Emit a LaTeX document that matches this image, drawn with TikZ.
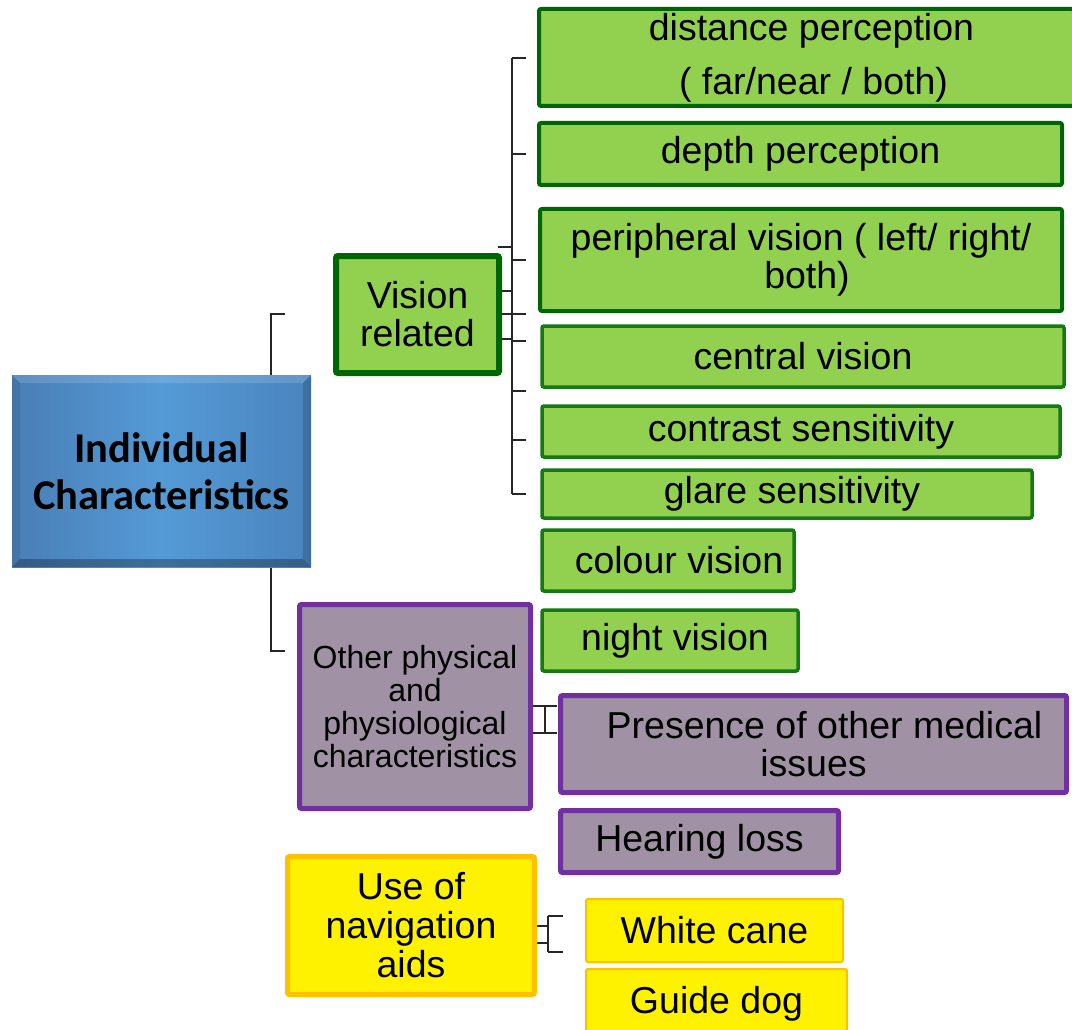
\documentclass[tikz,border=0pt]{standalone}
\usepackage{fontspec}
\setmainfont{Liberation Sans}
\newfontfamily\calibri{Carlito}
\usetikzlibrary{backgrounds}
\definecolor{gfill}{HTML}{92D050}
\definecolor{gline}{HTML}{006600}
\definecolor{gline2}{HTML}{157A15}
\definecolor{pline}{HTML}{7030A0}
\definecolor{pfill}{RGB}{160,146,164}
\definecolor{yline}{HTML}{FFC000}
\definecolor{bleft}{RGB}{74,126,182}
\definecolor{bmid}{RGB}{84,154,214}
\definecolor{bright}{RGB}{74,132,190}
\begin{document}
\begin{tikzpicture}[x=1pt,y=-1pt,
  box/.style={rectangle, rounded corners=2pt, inner sep=0pt, outer sep=0pt, text=black,
    font=\fontsize{37.5}{37.5}\selectfont, align=center},
  gbox/.style={box, fill=gfill, draw=gline, line width=4pt},
  gboxb/.style={box, fill=gfill, draw=gline2, line width=3.5pt},
  pbox/.style={box, fill=pfill, draw=pline, line width=5pt},
  ybox/.style={box, fill=yellow, draw=yline, line width=5pt},
  ysub/.style={box, fill=yellow, draw=yline, line width=2pt},
  conn/.style={draw=black!85, line width=1.3pt},
]
\useasboundingbox (0,0) rectangle (1072,1030);
\clip (0,0) rectangle (1072,1030);

% root
\node[rectangle, inner sep=0pt, outer sep=0pt, minimum width=299pt, minimum height=192pt,
  left color=bleft, right color=bright, middle color=bmid,
  font=\calibri\bfseries\fontsize{42.5}{47}\selectfont, align=center] (ic) at (161.5,471)
  {Individual\\Characteristics};
\fill[white, opacity=.14] (ic.north west) -- (ic.north east) -- ([xshift=-8pt,yshift=-8pt]ic.north east) -- ([xshift=8pt,yshift=-8pt]ic.north west) -- cycle;
\fill[black, opacity=.28] (ic.south west) -- (ic.south east) -- ([xshift=-8pt,yshift=8pt]ic.south east) -- ([xshift=8pt,yshift=8pt]ic.south west) -- cycle;
\fill[black, opacity=.08] (ic.north west) -- (ic.south west) -- ([xshift=8pt,yshift=8pt]ic.south west) -- ([xshift=8pt,yshift=-8pt]ic.north west) -- cycle;
\fill[black, opacity=.16] (ic.north east) -- (ic.south east) -- ([xshift=-8pt,yshift=8pt]ic.south east) -- ([xshift=-8pt,yshift=-8pt]ic.north east) -- cycle;

% level 1
\node[gbox, line width=6pt, minimum width=163pt, minimum height=117pt, font=\fontsize{37.5}{38}\selectfont] (vis) at (417.5,314.5) {Vision\\related};
\node[pbox, minimum width=231pt, minimum height=204pt, font=\fontsize{32}{33}\selectfont] (oth) at (415,706.5)
  {Other physical\\and\\physiological\\characteristics};
\node[ybox, minimum width=247pt, minimum height=138pt, font=\fontsize{37.5}{39}\selectfont] (nav) at (411,925.5)
  {Use of\\navigation\\aids};

% vision children
\node[gbox, minimum width=535pt, minimum height=97pt, font=\fontsize{37.5}{54}\selectfont] (dist) at (806.5,57.5)
  {\hspace*{10pt}distance perception\\\hspace*{14pt}( far/near / both)};
\node[gbox, minimum width=523pt, minimum height=62pt] (depth) at (800.5,154) {depth perception};
\node[gbox, minimum width=522pt, minimum height=102pt] (peri) at (801,260)
  {peripheral vision ( left/ right/\\\hspace*{12pt}both)};
\node[gboxb, minimum width=522pt, minimum height=61pt] (cent) at (803,356.5) {central vision};
\node[gboxb, minimum width=518pt, minimum height=51pt] (cont) at (801,431.5) {contrast sensitivity};
\node[gboxb, minimum width=490pt, minimum height=48pt] (glare) at (787,494) {\hspace*{10pt}glare sensitivity};
\node[gboxb, minimum width=252pt, minimum height=61pt] (col) at (668,560.5) {\hspace*{22pt}colour vision};
\node[gboxb, minimum width=256pt, minimum height=61pt] (night) at (670,640.5) {\hspace*{10pt}night vision};

% other children
\node[pbox, minimum width=506pt, minimum height=97pt, font=\fontsize{37.5}{38}\selectfont] (pres) at (813.5,744)
  {\hspace*{22pt}Presence of other medical\\issues};
\node[pbox, minimum width=278pt, minimum height=62pt] (hear) at (699.5,841.5) {Hearing loss};

% nav children
\node[ysub, minimum width=257pt, minimum height=63pt] (cane) at (714.5,930.5) {White cane};
\node[ysub, minimum width=261pt, minimum height=70pt] (dog) at (716.5,1004) {\raisebox{1pt}{Guide dog}};

% connector coordinates
\coordinate (mx) at (271,0);
\coordinate (bus) at (512,0);
\coordinate (tdist) at (526,58);
\coordinate (tdepth) at (526,154);
\coordinate (tperi) at (526,260);
\coordinate (tcent) at (526,314);
\coordinate (tcont) at (526,341);
\coordinate (tglare) at (526,391);
\coordinate (tcol) at (526,440);
\coordinate (tnight) at (526,494);
\coordinate (vtop) at (498,247);
\coordinate (ob) at (545,0);
\coordinate (opres) at (557,706);
\coordinate (ohear) at (557,733);
\coordinate (nb) at (548,0);
\coordinate (ncane) at (563,916);
\coordinate (ndog) at (563,952);
\coordinate (vmid1) at (0,291);
\coordinate (vmid2) at (0,339);
\coordinate (rtop) at (285,314);
\coordinate (rbot) at (285,651);
\coordinate (nmid1) at (0,926);
\coordinate (nmid2) at (0,943);

\begin{scope}[on background layer]
  % root bracket
  \draw[conn] (ic.north -| mx) |- (rtop);
  \draw[conn] (ic.south -| mx) |- (rbot);
  % vision bus
  \draw[conn] (bus |- tdist) -- (bus |- tnight);
  \draw[conn, line width=2pt] (bus |- vtop) -- (bus |- tcont);
  \foreach \t in {tdist,tdepth,tperi,tcent,tcont,tglare,tcol,tnight}
    \draw[conn] (bus |- \t) -- (\t);
  \draw[conn] (vtop) -- (bus |- vtop);
  \draw[conn] (vis.east |- vmid1) -- (bus |- vmid1);
  \draw[conn, line width=2pt] (vis.east |- tcent) -- (tcent);
  \draw[conn] (vis.east |- vmid2) -- (bus |- vmid2);
  % other bracket
  \draw[conn] (oth.east |- opres) -- (opres);
  \draw[conn] (oth.east |- ohear) -- (ohear);
  \draw[conn] (ob |- opres) -- (ob |- ohear);
  % nav bracket
  \draw[conn] (nav.east |- nmid1) -- (nb |- nmid1);
  \draw[conn] (nav.east |- nmid2) -- (nb |- nmid2);
  \draw[conn] (nb |- ncane) -- (nb |- ndog);
  \draw[conn] (nb |- ncane) -- (ncane);
  \draw[conn] (nb |- ndog) -- (ndog);
\end{scope}
\end{tikzpicture}
\end{document}
